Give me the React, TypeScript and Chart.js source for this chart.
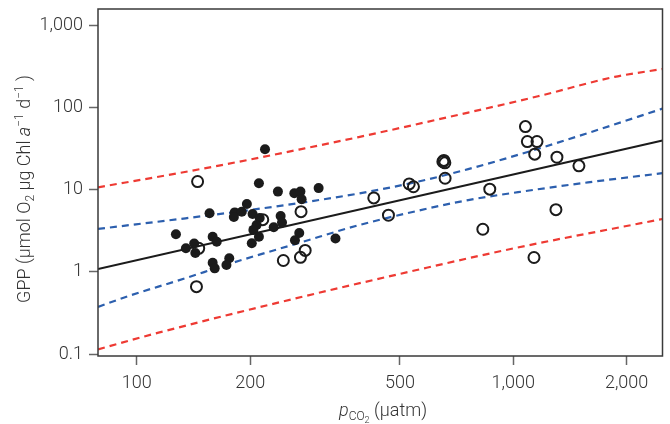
import React, { useEffect, useRef } from "react";
import { Chart, registerables } from "chart.js";

Chart.register(...registerables);

// Axis ticks
const xTicks = [100, 200, 500, 1000, 2000];
const yTicks = [0.1, 1, 10, 100, 1000];
const xMin = 78.85;
const xMax = 2491;
const yMin = 0.0946;
const yMax = 1566;

// Filled circles
const filledX = [127, 135, 142, 143, 156, 159, 163, 159, 161, 176, 173, 182, 190, 181, 196, 203, 211, 219, 212, 208, 204, 211, 202, 231, 237, 241, 243, 262, 272, 274, 270, 263, 304, 337];
const filledY = [2.86, 1.93, 2.21, 1.69, 5.15, 2.67, 2.32, 1.29, 1.10, 1.46, 1.21, 5.27, 5.38, 4.64, 6.68, 5.05, 11.9, 30.9, 4.51, 3.71, 3.23, 2.67, 2.22, 3.48, 9.43, 4.77, 3.96, 9.02, 9.43, 7.62, 2.96, 2.42, 10.4, 2.54];

// Open circles
const openX = [145, 146, 144, 216, 273, 280, 272, 245, 426, 466, 529, 543, 654, 658, 650, 659, 866, 830, 1077, 1090, 1156, 1140, 1135, 1298, 1306, 1494];
const openY = [12.5, 1.93, 0.659, 4.30, 5.38, 1.82, 1.50, 1.37, 7.90, 4.87, 11.7, 10.8, 22.6, 21.1, 21.8, 13.7, 10.1, 3.29, 58.2, 38.3, 38.3, 26.9, 1.49, 5.69, 24.7, 19.4];

// Regression line
const fitX = [78.85, 2491];
const fitY = [1.08, 39.4];

// Confidence band (blue)
const ciX = [78.85, 95.6, 127.4, 187, 269.5, 388.4, 560, 759, 1030, 1578, 2491];
const ciUpperY = [3.32, 3.69, 4.33, 5.41, 6.84, 8.94, 12.5, 17.7, 26.4, 48.6, 96.2];
const ciLowerY = [0.374, 0.512, 0.771, 1.36, 2.24, 3.68, 5.54, 7.44, 9.29, 12.2, 15.8];

// Prediction band (red)
const piUpperX = [78.85, 127.4, 187, 269.5, 388.4, 759, 1163, 1859, 2491];
const piUpperY = [10.64, 15.65, 21.8, 30.6, 43.4, 86.2, 136, 234, 292];
const piLowerX = [78.85, 114.8, 256.7, 554, 999, 2491];
const piLowerY = [0.114, 0.183, 0.46, 1.05, 1.92, 4.38];

const FONT = "Roboto, 'Open Sans', 'DejaVu Sans', sans-serif";
const TEXT = "#333333";
const RED = "#ee3a33";
const BLUE = "#2c5fae";
const INK = "#1b1b1b";

const pts = (xs: number[], ys: number[]) => xs.map((x, i) => ({ x, y: ys[i] }));
const fmt = (v: number) => (v >= 1000 ? v.toLocaleString("en-US") : String(v));

type Seg = { t: string; size: number; dy: number; italic?: boolean };

function drawSegs(ctx: CanvasRenderingContext2D, segs: Seg[], cx: number, baseY: number) {
  const f = (s: Seg) => `${s.italic ? "italic " : ""}300 ${s.size}px ${FONT}`;
  let total = 0;
  const widths = segs.map((s) => {
    ctx.font = f(s);
    const w = ctx.measureText(s.t).width;
    total += w;
    return w;
  });
  let x = cx - total / 2;
  ctx.textAlign = "left";
  ctx.textBaseline = "alphabetic";
  segs.forEach((s, i) => {
    ctx.font = f(s);
    ctx.fillText(s.t, x, baseY + s.dy);
    x += widths[i];
  });
}

const decorPlugin = {
  id: "decor",
  afterDraw(chart: any) {
    const { ctx, chartArea } = chart;
    ctx.save();
    ctx.strokeStyle = "#3a3a3a";
    ctx.lineWidth = 1.5;
    ctx.strokeRect(chartArea.left, chartArea.top, chartArea.right - chartArea.left, chartArea.bottom - chartArea.top);
    ctx.fillStyle = TEXT;
    // x title
    drawSegs(
      ctx,
      [
        { t: "p", size: 18, dy: 0, italic: true },
        { t: "CO", size: 12, dy: 4 },
        { t: "2", size: 9, dy: 7 },
        { t: " (\u00b5atm)", size: 18, dy: 0 },
      ],
      383,
      416
    );
    // y title
    ctx.translate(30, 189);
    ctx.rotate(-Math.PI / 2);
    drawSegs(
      ctx,
      [
        { t: "GPP (\u00b5mol O", size: 18, dy: 0 },
        { t: "2", size: 12, dy: 4 },
        { t: " \u00b5g Chl ", size: 18, dy: 0 },
        { t: "a", size: 18, dy: 0, italic: true },
        { t: "\u22121", size: 12, dy: -7 },
        { t: " d", size: 18, dy: 0 },
        { t: "\u22121", size: 12, dy: -7 },
        { t: " )", size: 18, dy: 0 },
      ],
      0,
      0
    );
    ctx.restore();
  },
};

export default function App() {
  const ref = useRef<HTMLCanvasElement>(null);
  useEffect(() => {
    if (!ref.current) return;
    const lineDs = (xs: number[], ys: number[], color: string, dashed: boolean) => ({
      data: pts(xs, ys),
      showLine: true,
      borderColor: color,
      borderWidth: dashed ? 2.2 : 2,
      borderDash: dashed ? [7, 5] : [],
      pointRadius: 0,
      cubicInterpolationMode: "monotone" as const,
      fill: false,
      order: 5,
    });
    const chart = new Chart(ref.current, {
      type: "scatter",
      data: {
        datasets: [
          {
            data: pts(filledX, filledY),
            pointRadius: 5,
            pointBackgroundColor: INK,
            pointBorderColor: INK,
            pointBorderWidth: 0,
            order: 1,
          },
          {
            data: pts(openX, openY),
            pointRadius: 5.5,
            pointBackgroundColor: "rgba(255,255,255,0)",
            pointBorderColor: INK,
            pointBorderWidth: 2,
            order: 0,
          },
          lineDs(fitX, fitY, INK, false),
          lineDs(ciX, ciUpperY, BLUE, true),
          lineDs(ciX, ciLowerY, BLUE, true),
          lineDs(piUpperX, piUpperY, RED, true),
          lineDs(piLowerX, piLowerY, RED, true),
        ] as any,
      },
      options: {
        responsive: false,
        animation: false,
        devicePixelRatio: 1,
        layout: { padding: { top: 9, right: 5, left: 0, bottom: 0 } },
        scales: {
          x: {
            type: "logarithmic",
            min: xMin,
            max: xMax,
            afterBuildTicks: (s: any) => {
              s.ticks = xTicks.map((v) => ({ value: v }));
            },
            afterFit: (s: any) => {
              s.height = 68;
              s.paddingLeft = 0;
              s.paddingRight = 0;
            },
            grid: { drawOnChartArea: false, drawTicks: true, tickLength: 9, tickColor: "#666", tickWidth: 1.5, color: "#666" },
            border: { display: false },
            ticks: {
              callback: (v: any) => fmt(Number(v)),
              font: { family: FONT, size: 18, weight: "300" },
              color: TEXT,
              padding: 8,
              maxRotation: 0,
              autoSkip: false,
            },
          },
          y: {
            type: "logarithmic",
            min: yMin,
            max: yMax,
            afterBuildTicks: (s: any) => {
              s.ticks = yTicks.map((v) => ({ value: v }));
            },
            afterFit: (s: any) => {
              s.width = 98;
              s.paddingTop = 0;
              s.paddingBottom = 0;
            },
            grid: { drawOnChartArea: false, drawTicks: true, tickLength: 9, tickColor: "#666", tickWidth: 1.5, color: "#666" },
            border: { display: false },
            ticks: {
              callback: (v: any) => fmt(Number(v)),
              font: { family: FONT, size: 18, weight: "300" },
              color: TEXT,
              padding: 6,
              autoSkip: false,
            },
          },
        },
        plugins: { legend: { display: false }, tooltip: { enabled: false } },
      } as any,
      plugins: [decorPlugin],
    });
    return () => chart.destroy();
  }, []);
  return (
    <div style={{ position: "fixed", left: 0, top: 0, width: 670, height: 424, background: "#fff" }}>
      <canvas ref={ref} width={670} height={424} style={{ display: "block" }} />
    </div>
  );
}
